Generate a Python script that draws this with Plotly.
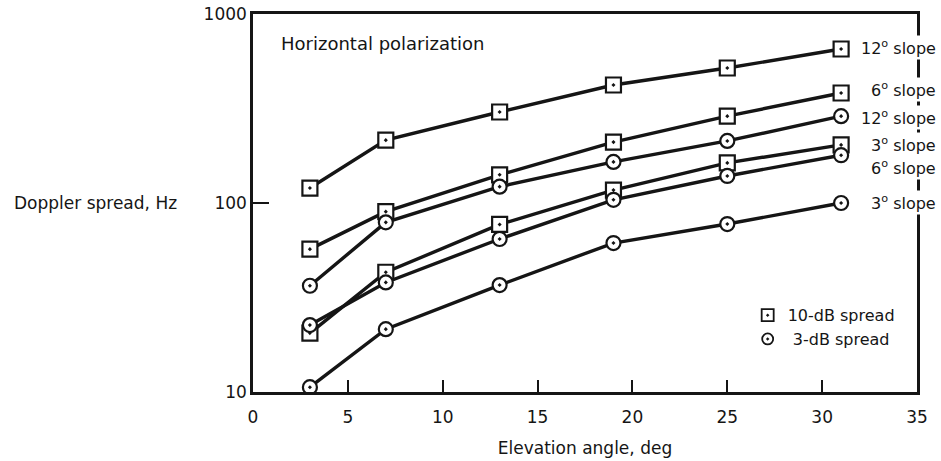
import math
import plotly.graph_objects as go

# Elevation angles (deg) at which the Doppler spread was evaluated
elevation = [3, 7, 13, 19, 25, 31]

# 10-dB Doppler spread (Hz) for each terrain slope
spread_10db_12 = [120, 215, 303, 421, 518, 653]
spread_10db_6 = [57, 90, 141, 210, 288, 382]
spread_10db_3 = [20.5, 43, 77, 117, 163, 203]

# 3-dB Doppler spread (Hz) for each terrain slope
spread_3db_12 = [36.5, 79, 122, 165, 213, 288]
spread_3db_6 = [22.6, 38, 64.5, 104, 139, 179]
spread_3db_3 = [10.6, 21.5, 36.8, 61.4, 77.4, 100]

x_ticks = [0, 5, 10, 15, 20, 25, 30, 35]
y_ticks = [10, 100, 1000]

INK = "#151515"
FONT = "DejaVu Sans"
FS = 17

# (values, marker symbol, slope label, vertical nudge of label in px)
curves = [
    (spread_10db_12, "square-dot", "12<sup>o</sup> slope", 1),
    (spread_10db_6, "square-dot", "6<sup>o</sup> slope", 3),
    (spread_3db_12, "circle-dot", "12<sup>o</sup> slope", -1),
    (spread_10db_3, "square-dot", "3<sup>o</sup> slope", 0),
    (spread_3db_6, "circle-dot", "6<sup>o</sup> slope", -12),
    (spread_3db_3, "circle-dot", "3<sup>o</sup> slope", 1),
]

fig = go.Figure()
annotations = []
for values, symbol, label, nudge in curves:
    fig.add_trace(go.Scatter(
        x=elevation, y=values, mode="lines+markers", showlegend=False,
        line=dict(color=INK, width=3.4),
        marker=dict(symbol=symbol, size=15 if symbol.startswith("square") else 14,
                    color="white", line=dict(color=INK, width=2.2)),
    ))
    # log axis: annotation positions are given in log10 units
    annotations.append(dict(
        x=1.031, xref="paper", y=math.log10(values[-1]), yref="y", yshift=nudge,
        text=label, showarrow=False, xanchor="right", yanchor="middle",
        font=dict(family=FONT, size=16, color=INK), bgcolor="white",
    ))

# Legend entries
fig.add_trace(go.Scatter(
    x=[None], y=[None], mode="markers", name="10-dB spread",
    marker=dict(symbol="square-dot", size=12, color="white", line=dict(color=INK, width=1.8)),
))
fig.add_trace(go.Scatter(
    x=[None], y=[None], mode="markers", name=" 3-dB spread",
    marker=dict(symbol="circle-dot", size=11, color="white", line=dict(color=INK, width=1.8)),
))

annotations.append(dict(
    x=0.039, xref="paper", y=0.923, yref="paper", text="Horizontal polarization",
    showarrow=False, xanchor="left", yanchor="middle",
    font=dict(family=FONT, size=18, color=INK),
))
annotations.append(dict(
    x=-0.363, xref="paper", y=2, yref="y", text="Doppler spread, Hz",
    showarrow=False, xanchor="left", yanchor="middle",
    font=dict(family=FONT, size=FS, color=INK),
))

fig.update_layout(
    width=941, height=461,
    margin=dict(l=253, r=24, t=14, b=69),
    paper_bgcolor="white", plot_bgcolor="white",
    font=dict(family=FONT, size=FS, color=INK),
    annotations=annotations,
    legend=dict(x=0.745, y=0.248, xanchor="left", yanchor="top",
                bgcolor="rgba(0,0,0,0)", font=dict(family=FONT, size=16, color=INK),
                itemwidth=30, tracegroupgap=0),
    xaxis=dict(
        range=[0, 35], tickvals=x_ticks, ticks="inside", ticklen=12, tickwidth=2,
        tickcolor=INK, showline=True, linecolor=INK, linewidth=2.5, mirror=True,
        showgrid=False, zeroline=False, ticklabelstandoff=8, automargin=False,
        title=dict(text="Elevation angle, deg", standoff=16, font=dict(family=FONT, size=FS)),
    ),
    yaxis=dict(
        type="log", range=[1, 3], tickvals=y_ticks, ticktext=[str(v) for v in y_ticks],
        ticks="inside", ticklen=16, tickwidth=2, tickcolor=INK,
        showline=True, linecolor=INK, linewidth=2.5, mirror=True,
        showgrid=False, zeroline=False, automargin=False,
    ),
)

fig.write_html("out.html")
